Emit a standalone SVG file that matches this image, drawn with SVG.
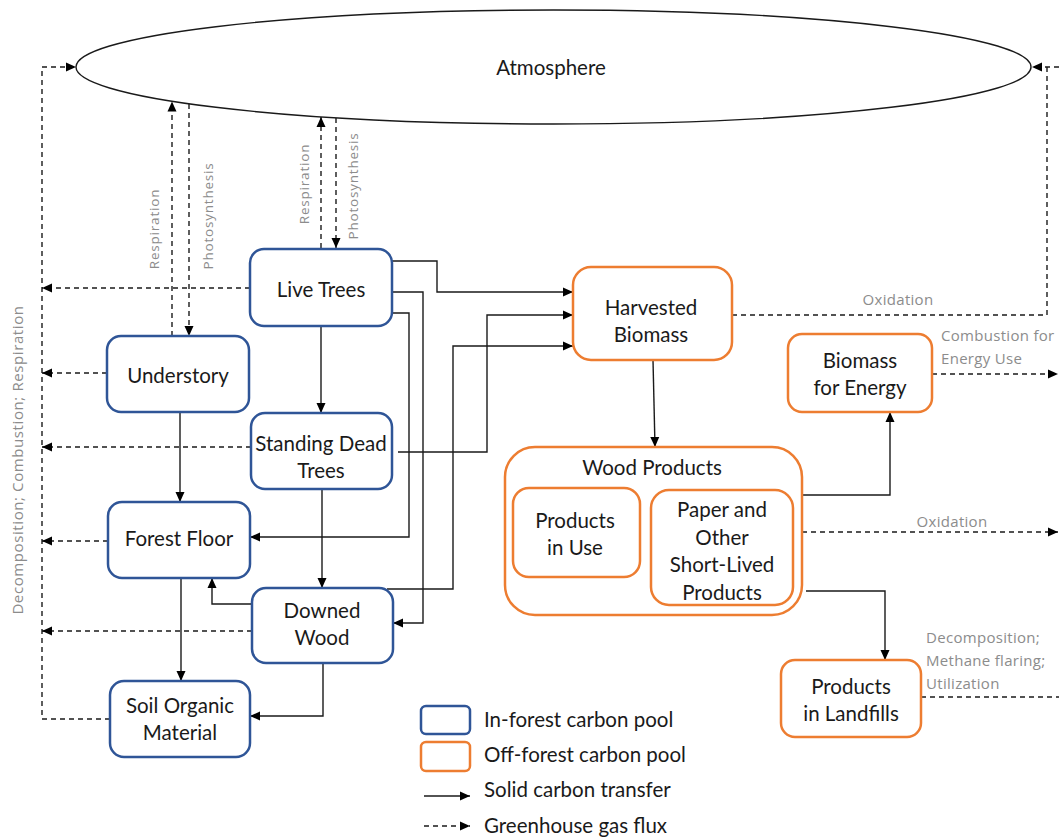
<svg xmlns="http://www.w3.org/2000/svg" width="1059" height="837" viewBox="0 0 1059 837">
<style>
.bg{fill:#fff}
.in{fill:#fff;stroke:#2F5597;stroke-width:2.5}
.off{fill:#fff;stroke:#ED7D31;stroke-width:2.5}
.t{font-family:Lato,"Open Sans",sans-serif;font-size:20.5px;fill:#1a1a1a;text-anchor:middle;dominant-baseline:central}
.g{font-family:"Open Sans",sans-serif;font-size:13.5px;fill:#8c8c8c;letter-spacing:0.8px}
.r{font-size:15px;letter-spacing:0.3px}
.s{fill:none;stroke:#1a1a1a;stroke-width:1.4}
.d{fill:none;stroke:#1a1a1a;stroke-width:1.4;stroke-dasharray:5 4}
</style>
<defs>
<marker id="ah" viewBox="0 0 10 10" refX="10" refY="5" markerWidth="10" markerHeight="10" markerUnits="userSpaceOnUse" orient="auto">
<path d="M0,0.5 L10,5 L0,9.5 z" fill="#000"/>
</marker>
</defs>
<rect class="bg" x="0" y="0" width="1059" height="837"/>

<g id="atmosphere">
<ellipse cx="553.5" cy="67" rx="477.5" ry="57" fill="#fff" stroke="#1a1a1a" stroke-width="1.4"/>
<text class="t" x="551" y="67">Atmosphere</text>
</g>

<g id="connectors">
<!-- flux to atmosphere left -->
<path class="d" d="M110,719 H42 V67 H76" marker-end="url(#ah)"/>
<path class="d" d="M250,288 H42" marker-end="url(#ah)"/>
<path class="d" d="M107,373 H42" marker-end="url(#ah)"/>
<path class="d" d="M251,447 H42" marker-end="url(#ah)"/>
<path class="d" d="M108,541 H42" marker-end="url(#ah)"/>
<path class="d" d="M252,631 H42" marker-end="url(#ah)"/>
<!-- respiration / photosynthesis -->
<path class="d" d="M172,336 V101.5" marker-end="url(#ah)"/>
<path class="d" d="M189,104 V336" marker-end="url(#ah)"/>
<path class="d" d="M321,248 V117" marker-end="url(#ah)"/>
<path class="d" d="M336,118 V248" marker-end="url(#ah)"/>
<!-- solid transfers -->
<path class="s" d="M392,261 H437 V292 H573" marker-end="url(#ah)"/>
<path class="s" d="M388,292 H423 V623 H393" marker-end="url(#ah)"/>
<path class="s" d="M392,313 H409 V537 H250" marker-end="url(#ah)"/>
<path class="s" d="M398,452 H487 V315 H573" marker-end="url(#ah)"/>
<path class="s" d="M387,589 H453 V346 H573" marker-end="url(#ah)"/>
<path class="s" d="M321,326 V413" marker-end="url(#ah)"/>
<path class="s" d="M322,489 V588" marker-end="url(#ah)"/>
<path class="s" d="M180,412 V502" marker-end="url(#ah)"/>
<path class="s" d="M181,578 V681" marker-end="url(#ah)"/>
<path class="s" d="M252,604 H212 V578" marker-end="url(#ah)"/>
<path class="s" d="M323,663 V716 H250" marker-end="url(#ah)"/>
<path class="s" d="M653,360 L655,447" marker-end="url(#ah)"/>
<path class="s" d="M802,495 H890 V412" marker-end="url(#ah)"/>
<path class="s" d="M806,591 H885 V660" marker-end="url(#ah)"/>
<!-- off-forest fluxes -->
<path class="d" d="M732,315 H1047 V67"/>
<path class="d" d="M1059,67 H1032" marker-end="url(#ah)"/>
<path class="d" d="M932,374 H1058" marker-end="url(#ah)"/>
<path class="d" d="M802,532 H1058" marker-end="url(#ah)"/>
<path class="d" d="M921,697 H1059"/>
<!-- flux labels -->
<text class="g" transform="translate(159,229) rotate(-90)" text-anchor="middle">Respiration</text>
<text class="g" transform="translate(213,216) rotate(-90)" text-anchor="middle">Photosynthesis</text>
<text class="g" transform="translate(309,184) rotate(-90)" text-anchor="middle">Respiration</text>
<text class="g" transform="translate(358,186) rotate(-90)" text-anchor="middle">Photosynthesis</text>
<text class="g" transform="translate(23,460) rotate(-90)" text-anchor="middle" style="font-size:15px;letter-spacing:0.6px">Decomposition; Combustion; Respiration</text>
<text class="g r" x="898" y="305" text-anchor="middle">Oxidation</text>
<text class="g r" x="941" y="341">Combustion for</text>
<text class="g r" x="941" y="364">Energy Use</text>
<text class="g r" x="952" y="527" text-anchor="middle">Oxidation</text>
<text class="g r" x="926" y="643">Decomposition;</text>
<text class="g r" x="926" y="666">Methane flaring;</text>
<text class="g r" x="926" y="689">Utilization</text>
</g>

<g id="live-trees">
<rect class="in" x="250" y="249" width="142" height="77" rx="14"/>
<text class="t" x="321" y="289">Live Trees</text>
</g>
<g id="understory">
<rect class="in" x="107" y="336" width="142" height="76" rx="14"/>
<text class="t" x="178" y="375">Understory</text>
</g>
<g id="standing-dead-trees">
<rect class="in" x="251" y="413" width="141" height="76" rx="14"/>
<text class="t" x="321" y="443">Standing Dead</text>
<text class="t" x="321" y="470">Trees</text>
</g>
<g id="forest-floor">
<rect class="in" x="108" y="502" width="142" height="76" rx="14"/>
<text class="t" x="179" y="538">Forest Floor</text>
</g>
<g id="downed-wood">
<rect class="in" x="252" y="588" width="141" height="75" rx="14"/>
<text class="t" x="322" y="610">Downed</text>
<text class="t" x="322" y="637">Wood</text>
</g>
<g id="soil-organic-material">
<rect class="in" x="110" y="681" width="140" height="76" rx="14"/>
<text class="t" x="180" y="705">Soil Organic</text>
<text class="t" x="180" y="732">Material</text>
</g>
<g id="harvested-biomass">
<rect class="off" x="573" y="267" width="159" height="93" rx="18"/>
<text class="t" x="651" y="307">Harvested</text>
<text class="t" x="651" y="334">Biomass</text>
</g>
<g id="biomass-for-energy">
<rect class="off" x="788" y="334" width="144" height="78" rx="14"/>
<text class="t" x="860" y="360">Biomass</text>
<text class="t" x="860" y="387">for Energy</text>
</g>
<g id="wood-products">
<rect class="off" x="505" y="447" width="297" height="168" rx="30"/>
<text class="t" x="652" y="467">Wood Products</text>
</g>
<g id="products-in-use">
<rect class="off" x="513" y="488" width="127" height="89" rx="16"/>
<text class="t" x="575" y="520">Products</text>
<text class="t" x="575" y="547">in Use</text>
</g>
<g id="paper-short-lived">
<rect class="off" x="651" y="490" width="142" height="115" rx="18"/>
<text class="t" x="722" y="509">Paper and</text>
<text class="t" x="722" y="537">Other</text>
<text class="t" x="722" y="564">Short-Lived</text>
<text class="t" x="722" y="592">Products</text>
</g>
<g id="products-in-landfills">
<rect class="off" x="781" y="660" width="140" height="77" rx="14"/>
<text class="t" x="851" y="686">Products</text>
<text class="t" x="851" y="713">in Landfills</text>
</g>

<g id="legend">
<rect class="in" x="421" y="706" width="49" height="28" rx="5"/>
<rect class="off" x="421" y="742" width="49" height="29" rx="5"/>
<path class="s" d="M424,796 H470" marker-end="url(#ah)"/>
<path class="d" d="M424,826 H470" marker-end="url(#ah)"/>
<text class="t" x="484" y="719" style="text-anchor:start">In-forest carbon pool</text>
<text class="t" x="484" y="754" style="text-anchor:start">Off-forest carbon pool</text>
<text class="t" x="484" y="789" style="text-anchor:start">Solid carbon transfer</text>
<text class="t" x="484" y="825" style="text-anchor:start">Greenhouse gas flux</text>
</g>
</svg>
